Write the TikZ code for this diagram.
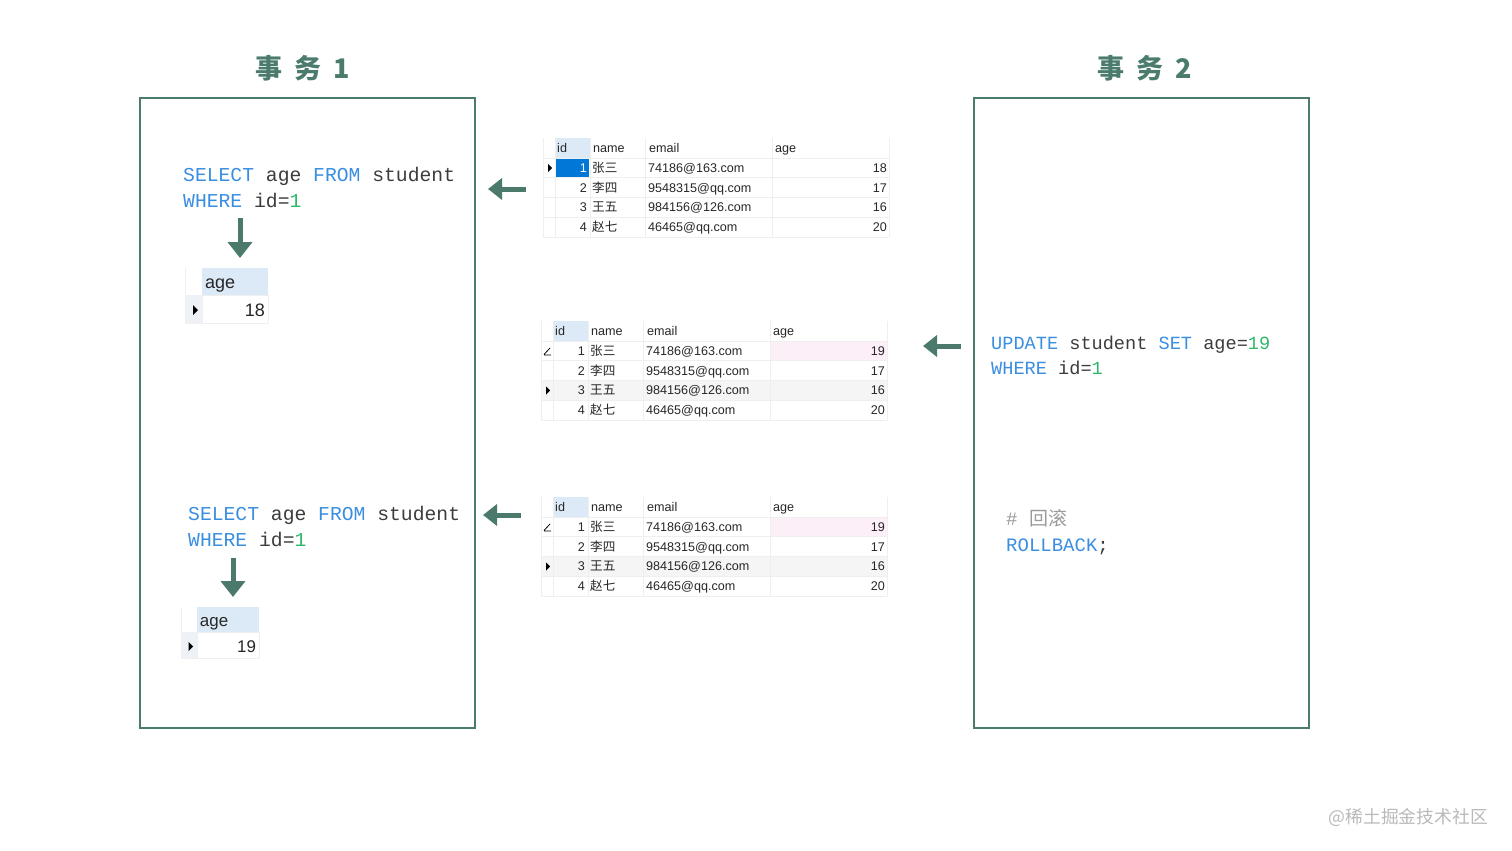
\documentclass[tikz,border=0pt]{standalone}
\usepackage{fontspec}
\setmainfont{Liberation Sans}
\setmonofont{Liberation Mono}
\newfontfamily\cjk{Noto Sans CJK SC}
\usetikzlibrary{arrows.meta,positioning}

\definecolor{frame}{HTML}{4A7B6D}
\definecolor{arrowgreen}{HTML}{4B7A6C}
\definecolor{sqlblue}{HTML}{3A8EE0}
\definecolor{sqlgreen}{HTML}{2DB86A}
\definecolor{sqltext}{HTML}{3C3C3C}
\definecolor{sqlcomment}{HTML}{9A9A9A}
\definecolor{idhead}{HTML}{DCE9F7}
\definecolor{selblue}{HTML}{0078D7}
\definecolor{editpink}{HTML}{FCEFF8}
\definecolor{gridgray}{HTML}{EFEFEF}
\definecolor{rowgray}{HTML}{F5F5F5}
\definecolor{indgray}{HTML}{EEF2F6}

\newcommand\kw[1]{\textcolor{sqlblue}{#1}}
\newcommand\nb[1]{\textcolor{sqlgreen}{#1}}

\tikzset{
  panel/.style={draw=frame, line width=2pt, minimum width=335pt, minimum height=630pt, inner sep=0pt},
  title/.style={font=\cjk\bfseries\fontsize{27}{27}\selectfont, text=frame, inner sep=0pt},
  sql/.style={font=\ttfamily\fontsize{19.7}{26}\selectfont, text=sqltext, align=left, inner sep=0pt, anchor=west},
  bigarrow/.style={line width=5pt, draw=arrowgreen, -{Triangle[width=21pt,length=14pt]}},
  downarrow/.style={line width=5pt, draw=arrowgreen, -{Triangle[width=24pt,length=16pt]}},
  cell/.style={font=\fontsize{12.6}{13}\selectfont, text=black!85, inner sep=0pt},
  agecell/.style={font=\fontsize{18}{18}\selectfont, text=black!85, inner sep=0pt},
  gridline/.style={draw=gridgray, line width=0.8pt},
}

% big result grid: x, y, age of row 1, kind (1 = selected, 2 = edited), name
\newcommand\studenttable[5]{%
\begin{scope}[shift={(#1,#2)}]
  \fill[idhead] (12,0) rectangle (47,20);
  \ifnum#4=1
    \fill[selblue] (12,20) rectangle (46,39.75);
    \fill (5,26) -- (9,30) -- (5,34) -- cycle;
  \else
    \fill[rowgray] (0,59.5) rectangle (346,79.25);
    \fill[editpink] (229,20) rectangle (346,39.75);
    \draw[line width=0.8pt] (3,34) -- (10,34) (3,33.5) -- (9,27);
    \fill (5,65.5) -- (9,69.5) -- (5,73.5) -- cycle;
  \fi
  \foreach \c in {0,12,47,102,229,346} \draw[gridline] (\c,0) -- (\c,99);
  \foreach \r in {20,39.75,59.5,79.25,99} \draw[gridline] (0,\r) -- (346,\r);
  \node[cell, anchor=base west] (#5-h1) at (14,14.5) {id};
  \node[cell, anchor=base west] (#5-h2) at (50,14.5) {name};
  \node[cell, anchor=base west] (#5-h3) at (106,14.5) {email};
  \node[cell, anchor=base west] (#5-h4) at (232,14.5) {age};
  \foreach \i/\who/\mail/\yrs in {1/张三/74186@163.com/#3, 2/李四/9548315@qq.com/17,
      3/王五/984156@126.com/16, 4/赵七/46465@qq.com/20} {
    \node[cell, anchor=base east] (#5-\i-id) at (44,{14.5+\i*19.75}) {\ifnum\i=1 \ifnum#4=1 \color{white}\fi\fi\i};
    \node[cell, anchor=base west] (#5-\i-name) at (49,{14.5+\i*19.75}) {\cjk\who};
    \node[cell, anchor=base west] (#5-\i-mail) at (105,{14.5+\i*19.75}) {\mail};
    \node[cell, anchor=base east] (#5-\i-age) at (344,{14.5+\i*19.75}) {\yrs};
  }
\end{scope}}

% small query result: x, y, scale, value, name
\newcommand\agetable[5]{%
\begin{scope}[shift={(#1,#2)}, scale=#3, transform shape]
  \fill[idhead] (17,0) rectangle (83,27);
  \fill[indgray] (0,27) rectangle (17,55);
  \draw[gridline] (0,0) -- (0,55) (17,27) -- (17,55) (17,27) -- (83,27) (0,55) -- (83,55) (83,27) -- (83,55);
  \fill (8,37) -- (13,42) -- (8,47) -- cycle;
  \node[agecell, anchor=base west] (#5-head) at (20,20.5) {age};
  \node[agecell, anchor=base east] (#5-val) at (80,48.5) {#4};
\end{scope}}

\begin{document}
\begin{tikzpicture}[x=1pt, y=-1pt]
\useasboundingbox (0,0) rectangle (1512,851);

% transaction panels
\node[panel] (panel1) at (307.5,413) {};
\node[panel] (panel2) at (1141.5,413) {};
\node[title] (title1) at (303,68) {事\hspace{12pt}务\hspace{12pt}1};
\node[title] (title2) at (1145,68) {事\hspace{12pt}务\hspace{12pt}2};

% transaction 1
\node[sql] (query1) at (183,187) {\kw{SELECT} age \kw{FROM} student\\\kw{WHERE} id=\nb{1}};
\agetable{185}{268}{1}{18}{res1}
\node[sql] (query2) at (188,526) {\kw{SELECT} age \kw{FROM} student\\\kw{WHERE} id=\nb{1}};
\agetable{181}{607}{0.94}{19}{res2}

\coordinate (d1s) at (240,218);
\coordinate (d1e) at (240,258);
\coordinate (d2s) at (233,558);
\coordinate (d2e) at (233,597);
\draw[downarrow] (d1s) -- (d1e);
\draw[downarrow] (d2s) -- (d2e);

% transaction 2
\node[sql, font=\ttfamily\fontsize{18.6}{25}\selectfont] (update) at (991,355) {\kw{UPDATE} student \kw{SET} age=\nb{19}\\\kw{WHERE} id=\nb{1}};
\node[sql, font=\ttfamily\fontsize{19}{26}\selectfont] (rollback) at (1006,532) {\textcolor{sqlcomment}{\# {\cjk 回滚}}\\\kw{ROLLBACK};};

% table states
\studenttable{543}{138}{18}{1}{grid1}
\studenttable{541}{321}{19}{2}{grid2}
\studenttable{541}{497}{19}{2}{grid3}

\coordinate (a1s) at (526,189);
\coordinate (a1e) at (488,189);
\coordinate (a2s) at (961,346);
\coordinate (a2e) at (923,346);
\coordinate (a3s) at (521,515);
\coordinate (a3e) at (483,515);
\draw[bigarrow] (a1s) -- (a1e);
\draw[bigarrow] (a2s) -- (a2e);
\draw[bigarrow] (a3s) -- (a3e);

\node[anchor=east, text=gray!55, font=\cjk\fontsize{17.8}{18}\selectfont, inner sep=0pt] (mark) at (1488,817) {@稀土掘金技术社区};
\end{tikzpicture}
\end{document}
